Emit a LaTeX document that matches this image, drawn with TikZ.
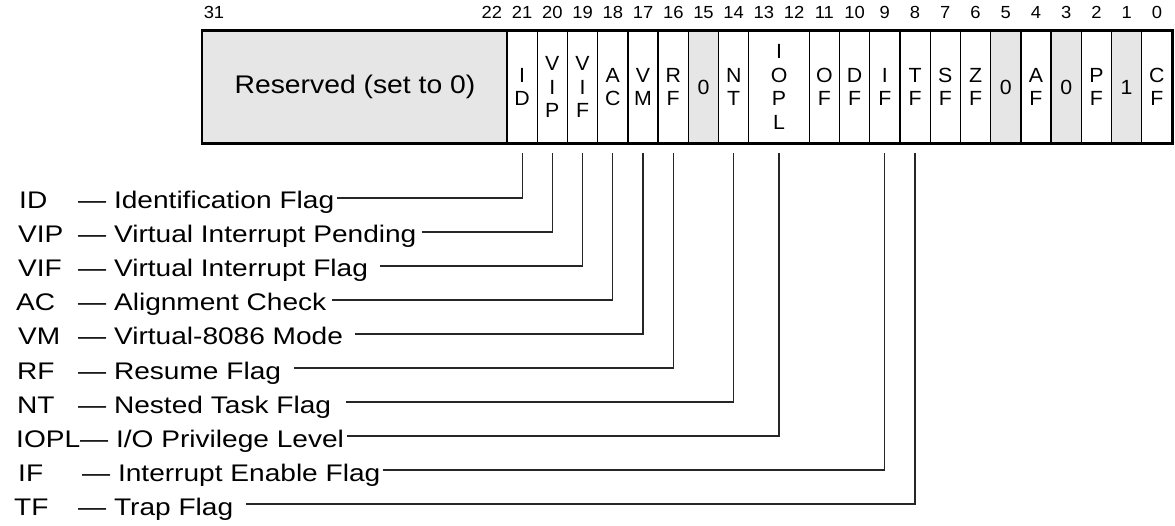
\documentclass[tikz,border=0pt]{standalone}
\usepackage{fontspec}
\setmainfont{Liberation Sans}
\usetikzlibrary{calc}
\definecolor{regGrey}{RGB}{230,230,230}
\newcommand\myhs[2][1.17]{\scalebox{#1}[1]{#2}}
\newcommand\cletter[1]{\scalebox{1.04}[1]{#1}}
\begin{document}
\begin{tikzpicture}[x=1pt,y=1pt,
  desc/.style={anchor=west, inner sep=0pt, text height=24pt, text depth=2pt, font=\fontsize{24}{26}\selectfont},
  bitnum/.style={anchor=base, inner sep=0pt, font=\fontsize{17.5}{19}\selectfont},
  cellbox/.style={draw=black, line width=1.3pt, minimum width=30.227pt, minimum height=112pt, inner sep=0pt, align=center, font=\fontsize{20.5}{23.5}\selectfont},
  greycell/.style={cellbox, fill=regGrey},
  leader/.style={draw=black!85, line width=1.2pt}]
\useasboundingbox (0,0) rectangle (1175,-526);

% bit numbers
\node[bitnum] (n31) at (214,-19) {\myhs[1.05]{31}};
\foreach \b in {0,...,22}
  \node[bitnum] (n\b) at ({1172-(\b+0.5)*30.227},-19) {\myhs[1.05]{\b}};

% register cells
\node[greycell, minimum width=305pt, font=\fontsize{25.5}{28}\selectfont] (res) at (355,-87) {\myhs[1.11]{Reserved (set to 0)}};
\node[cellbox] (c21) at (522.11,-87) {\cletter{I}\\\cletter{D}};
\node[cellbox] (c20) at (552.34,-87) {\cletter{V}\\\cletter{I}\\\cletter{P}};
\node[cellbox] (c19) at (582.57,-87) {\cletter{V}\\\cletter{I}\\\cletter{F}};
\node[cellbox] (c18) at (612.80,-87) {\cletter{A}\\\cletter{C}};
\node[cellbox] (c17) at (643.02,-87) {\cletter{V}\\\cletter{M}};
\node[cellbox] (c16) at (673.25,-87) {\cletter{R}\\\cletter{F}};
\node[greycell] (c15) at (703.48,-87) {\cletter{0}};
\node[cellbox] (c14) at (733.70,-87) {\cletter{N}\\\cletter{T}};
\node[cellbox, minimum width=60.454pt] (c12) at (779.05,-87) {\cletter{I}\\\cletter{O}\\\cletter{P}\\\cletter{L}};
\node[cellbox] (c11) at (824.39,-87) {\cletter{O}\\\cletter{F}};
\node[cellbox] (c10) at (854.61,-87) {\cletter{D}\\\cletter{F}};
\node[cellbox] (c9) at (884.84,-87) {\cletter{I}\\\cletter{F}};
\node[cellbox] (c8) at (915.07,-87) {\cletter{T}\\\cletter{F}};
\node[cellbox] (c7) at (945.30,-87) {\cletter{S}\\\cletter{F}};
\node[cellbox] (c6) at (975.52,-87) {\cletter{Z}\\\cletter{F}};
\node[greycell] (c5) at (1005.75,-87) {\cletter{0}};
\node[cellbox] (c4) at (1035.98,-87) {\cletter{A}\\\cletter{F}};
\node[greycell] (c3) at (1066.20,-87) {\cletter{0}};
\node[cellbox] (c2) at (1096.43,-87) {\cletter{P}\\\cletter{F}};
\node[greycell] (c1) at (1126.66,-87) {\cletter{1}};
\node[cellbox] (c0) at (1156.89,-87) {\cletter{C}\\\cletter{F}};
\draw[line width=2pt] (res.north west) rectangle (c0.south east);

% legend
\node[desc] (aID)   at (19,-198) {\myhs{ID}};
\node[desc] (aVIP)  at (18,-232) {\myhs{VIP}};
\node[desc] (aVIF)  at (18,-266) {\myhs{VIF}};
\node[desc] (aAC)   at (16,-300) {\myhs{AC}};
\node[desc] (aVM)   at (18,-334) {\myhs{VM}};
\node[desc] (aRF)   at (17,-368) {\myhs{RF}};
\node[desc] (aNT)   at (17,-402) {\myhs{NT}};
\node[desc] (aIOPL) at (16,-436) {\myhs{IOPL}};
\node[desc] (aIF)   at (18,-470) {\myhs{IF}};
\node[desc] (aTF)   at (14,-504) {\myhs{TF}};

\node[desc] (dID)   at (78,-198) {\myhs{— Identification Flag}};
\node[desc] (dVIP)  at (78,-232) {\myhs{— Virtual Interrupt Pending}};
\node[desc] (dVIF)  at (78,-266) {\myhs{— Virtual Interrupt Flag}};
\node[desc] (dAC)   at (78,-300) {\myhs{— Alignment Check}};
\node[desc] (dVM)   at (78,-334) {\myhs{— Virtual-8086 Mode}};
\node[desc] (dRF)   at (78,-368) {\myhs{— Resume Flag}};
\node[desc] (dNT)   at (78,-402) {\myhs{— Nested Task Flag}};
\node[desc] (dIOPL) at (80,-436) {\myhs{— I/O Privilege Level}};
\node[desc] (dIF)   at (82,-470) {\myhs{— Interrupt Enable Flag}};
\node[desc] (dTF)   at (78,-504) {\myhs{— Trap Flag}};

% leaders
\draw[leader] ($(dID.east)+(3,0)$)   -| ($(c21.south)+(0,-9)$);
\draw[leader] ($(dVIP.east)+(5,0)$)  -| ($(c20.south)+(0,-9)$);
\draw[leader] ($(dVIF.east)+(12,0)$) -| ($(c19.south)+(0,-9)$);
\draw[leader] ($(dAC.east)+(5,0)$)   -| ($(c18.south)+(0,-9)$);
\draw[leader] ($(dVM.east)+(12,0)$)  -| ($(c17.south)+(0,-9)$);
\draw[leader] ($(dRF.east)+(13,0)$)  -| ($(c16.south)+(0,-9)$);
\draw[leader] ($(dNT.east)+(15,0)$)  -| ($(c14.south)+(0,-9)$);
\draw[leader] ($(dIOPL.east)+(3,0)$) -| ($(c12.south)+(0,-9)$);
\draw[leader] ($(dIF.east)+(2,0)$)   -| ($(c9.south)+(0,-9)$);
\draw[leader] ($(dTF.east)+(13,0)$)  -| ($(c8.south)+(0,-9)$);
\end{tikzpicture}
\end{document}
